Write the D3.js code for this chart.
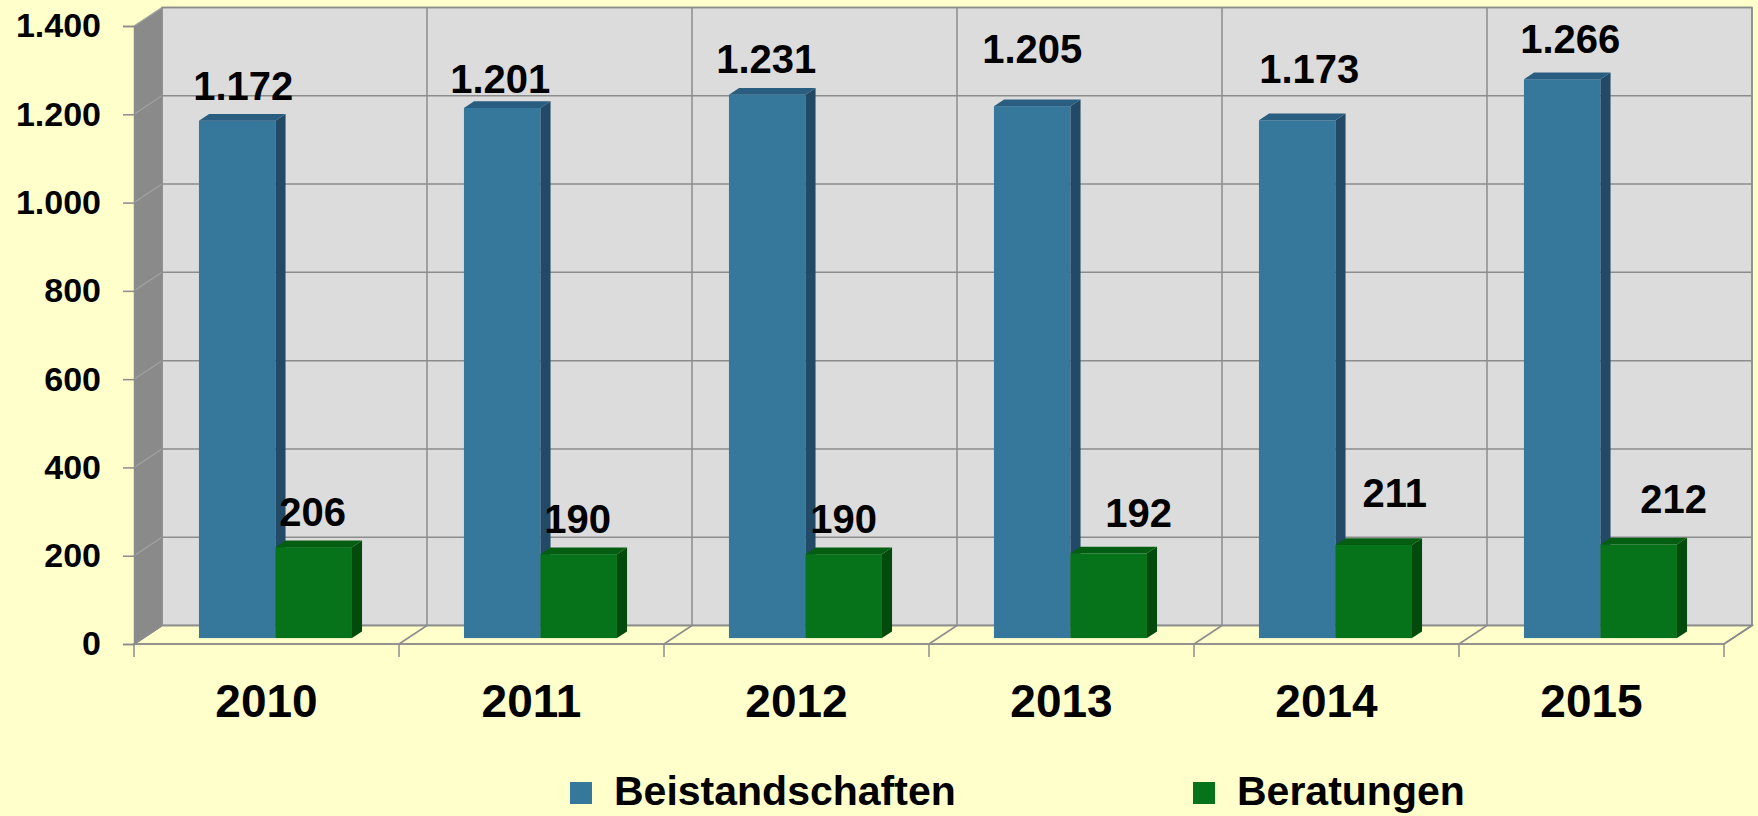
<!DOCTYPE html>
<html>
<head>
<meta charset="utf-8">
<script src="https://cdn.jsdelivr.net/npm/d3@7"></script>
<style>
  body { margin: 0; background: #ffffcc; }
  svg text { font-family: "Liberation Sans", Arial, sans-serif; font-weight: bold; fill: #000; }
</style>
</head>
<body>
<div class="chart"></div>
<script>
// data
const years = ['2010', '2011', '2012', '2013', '2014', '2015'];
const beistandschaften = [1172, 1201, 1231, 1205, 1173, 1266];
const beratungen = [206, 190, 190, 192, 211, 212];
const seriesNames = ['Beistandschaften', 'Beratungen'];
const yTicks = [0, 200, 400, 600, 800, 1000, 1200, 1400];

// label nudges (the labels were moved by hand in the original)
const blueNudge = [[6, 0], [-2, 6], [-1, -1], [0, -22], [12, -16], [8, -5]];
const greenNudge = [[-1, 0], [-1, 0], [0, 0], [30, -5], [21, -17], [35, -10]];

const width = 1758, height = 816;
const depthX = 28, depthY = -18.5;   // wall depth
const zFront = 0.32, zBack = 0.68;   // bars sit in the middle of the depth

const colors = {
  Beistandschaften: { front: '#36779c', top: '#2a5e80', side: '#224a67' },
  Beratungen: { front: '#06731a', top: '#045e12', side: '#034b0d' }
};

const de = d3.formatLocale({ decimal: ',', thousands: '.', grouping: [3], currency: ['', '€'] });
const fmt = de.format(',d');

const svg = d3.select('.chart')
  .append('svg')
  .attr('width', width)
  .attr('height', height);

svg.append('rect').attr('width', width).attr('height', height).attr('fill', '#ffffcc');

const x = d3.scaleBand().domain(years).range([134, 1724]);
const xs = d3.scaleBand().domain(seriesNames).range([0, x.bandwidth()]).paddingOuter(0.732);
const y = d3.scaleLinear().domain([0, 1400]).range([644, 26]);

const x0 = x.range()[0], x1 = x.range()[1];
const yTop = y(1400), yBot = y(0);

// side wall
svg.append('polygon')
  .attr('points', [[x0, yTop], [x0 + depthX, yTop + depthY], [x0 + depthX, yBot + depthY], [x0, yBot]].join(' '))
  .attr('fill', '#8a8a8a');

// back wall
svg.append('rect')
  .attr('x', x0 + depthX).attr('y', yTop + depthY)
  .attr('width', x1 - x0).attr('height', yBot - yTop)
  .attr('fill', '#dcdcdc')
  .attr('stroke', '#8c8c8c').attr('stroke-width', 1.5);

// floor
svg.append('polygon')
  .attr('points', [[x0, yBot], [x0 + depthX, yBot + depthY], [x1 + depthX, yBot + depthY], [x1, yBot]].join(' '))
  .attr('fill', '#ffffcc')
  .attr('stroke', '#8c8c8c').attr('stroke-width', 1.5);

// horizontal gridlines on back wall + diagonals on side wall
svg.selectAll('.hgrid')
  .data(yTicks)
  .enter()
  .append('line')
  .attr('class', 'hgrid')
  .attr('x1', x0 + depthX).attr('x2', x1 + depthX)
  .attr('y1', d => y(d) + depthY).attr('y2', d => y(d) + depthY)
  .attr('stroke', '#8c8c8c').attr('stroke-width', 1.5);

svg.selectAll('.sgrid')
  .data(yTicks)
  .enter()
  .append('line')
  .attr('class', 'sgrid')
  .attr('x1', x0).attr('x2', x0 + depthX)
  .attr('y1', d => y(d)).attr('y2', d => y(d) + depthY)
  .attr('stroke', '#a2a2a2').attr('stroke-width', 1.2);

// vertical gridlines on back wall + diagonals on floor
const bounds = years.map(d => x(d)).concat([x1]);
svg.selectAll('.vgrid')
  .data(bounds)
  .enter()
  .append('line')
  .attr('class', 'vgrid')
  .attr('x1', d => d + depthX).attr('x2', d => d + depthX)
  .attr('y1', yTop + depthY).attr('y2', yBot + depthY)
  .attr('stroke', '#8c8c8c').attr('stroke-width', 1.5);

svg.selectAll('.fgrid')
  .data(bounds)
  .enter()
  .append('line')
  .attr('class', 'fgrid')
  .attr('x1', d => d).attr('x2', d => d + depthX)
  .attr('y1', yBot).attr('y2', yBot + depthY)
  .attr('stroke', '#8c8c8c').attr('stroke-width', 1.5);

// y axis
const yAxis = svg.append('g')
  .attr('transform', `translate(${x0},0)`)
  .call(d3.axisLeft(y).tickValues(yTicks).tickFormat(fmt).tickSize(11).tickPadding(22));
yAxis.select('.domain').attr('stroke', '#8c8c8c').attr('stroke-width', 1.5);
yAxis.selectAll('.tick line').attr('stroke', '#8c8c8c').attr('stroke-width', 1.5);
yAxis.selectAll('.tick text')
  .style('font-family', '"Liberation Sans", Arial, sans-serif')
  .style('font-weight', 'bold')
  .style('font-size', '34px')
  .attr('fill', '#000');

// x axis line + ticks at category boundaries
svg.append('line')
  .attr('x1', x0).attr('x2', x1)
  .attr('y1', yBot).attr('y2', yBot)
  .attr('stroke', '#8c8c8c').attr('stroke-width', 1.5);
svg.selectAll('.xtick')
  .data(bounds)
  .enter()
  .append('line')
  .attr('class', 'xtick')
  .attr('x1', d => d).attr('x2', d => d)
  .attr('y1', yBot).attr('y2', yBot + 13)
  .attr('stroke', '#8c8c8c').attr('stroke-width', 1.5);

svg.selectAll('.xlabel')
  .data(years)
  .enter()
  .append('text')
  .attr('class', 'xlabel')
  .attr('text-anchor', 'middle')
  .attr('x', d => x(d) + x.bandwidth() / 2)
  .attr('y', 717)
  .style('font-size', '46px')
  .text(d => d);

// bars
const fx = depthX * zFront, fy = depthY * zFront;
const bx = depthX * zBack, by = depthY * zBack;
const bars = [];
years.forEach((yr, i) => {
  bars.push({ year: yr, series: 'Beistandschaften', value: beistandschaften[i], nudge: blueNudge[i] });
  bars.push({ year: yr, series: 'Beratungen', value: beratungen[i], nudge: greenNudge[i] });
});

const barG = svg.selectAll('.bar')
  .data(bars)
  .enter()
  .append('g')
  .attr('class', 'bar');

barG.each(function(d) {
  const g = d3.select(this);
  const l = x(d.year) + xs(d.series) + fx;
  const r = l + xs.bandwidth();
  const t = y(d.value) + fy;
  const b = y(0) + fy;
  const ddx = bx - fx, ddy = by - fy;
  // front
  g.append('rect')
    .attr('x', l).attr('y', t)
    .attr('width', r - l).attr('height', b - t)
    .attr('fill', colors[d.series].front);
  // side
  g.append('polygon')
    .attr('points', [[r, t], [r + ddx, t + ddy], [r + ddx, b + ddy], [r, b]].join(' '))
    .attr('fill', colors[d.series].side);
  // top
  g.append('polygon')
    .attr('points', [[l, t], [l + ddx, t + ddy], [r + ddx, t + ddy], [r, t]].join(' '))
    .attr('fill', colors[d.series].top);
});

// value labels
svg.selectAll('.vlabel')
  .data(bars)
  .enter()
  .append('text')
  .attr('class', 'vlabel')
  .attr('text-anchor', 'middle')
  .attr('x', d => x(d.year) + xs(d.series) + fx + xs.bandwidth() / 2 + d.nudge[0])
  .attr('y', d => y(d.value) + fy - 21 + d.nudge[1])
  .style('font-size', '40px')
  .text(d => fmt(d.value));

// legend
const legendX = [570, 1193];
const legend = svg.selectAll('.legend')
  .data(seriesNames)
  .enter()
  .append('g')
  .attr('class', 'legend')
  .attr('transform', (d, i) => `translate(${legendX[i]},0)`);
legend.append('rect')
  .attr('x', 0).attr('y', 782)
  .attr('width', 22).attr('height', 22)
  .attr('fill', d => colors[d].front);
legend.append('text')
  .attr('x', 44).attr('y', 805)
  .style('font-size', '41px')
  .text(d => d);
</script>
</body>
</html>
